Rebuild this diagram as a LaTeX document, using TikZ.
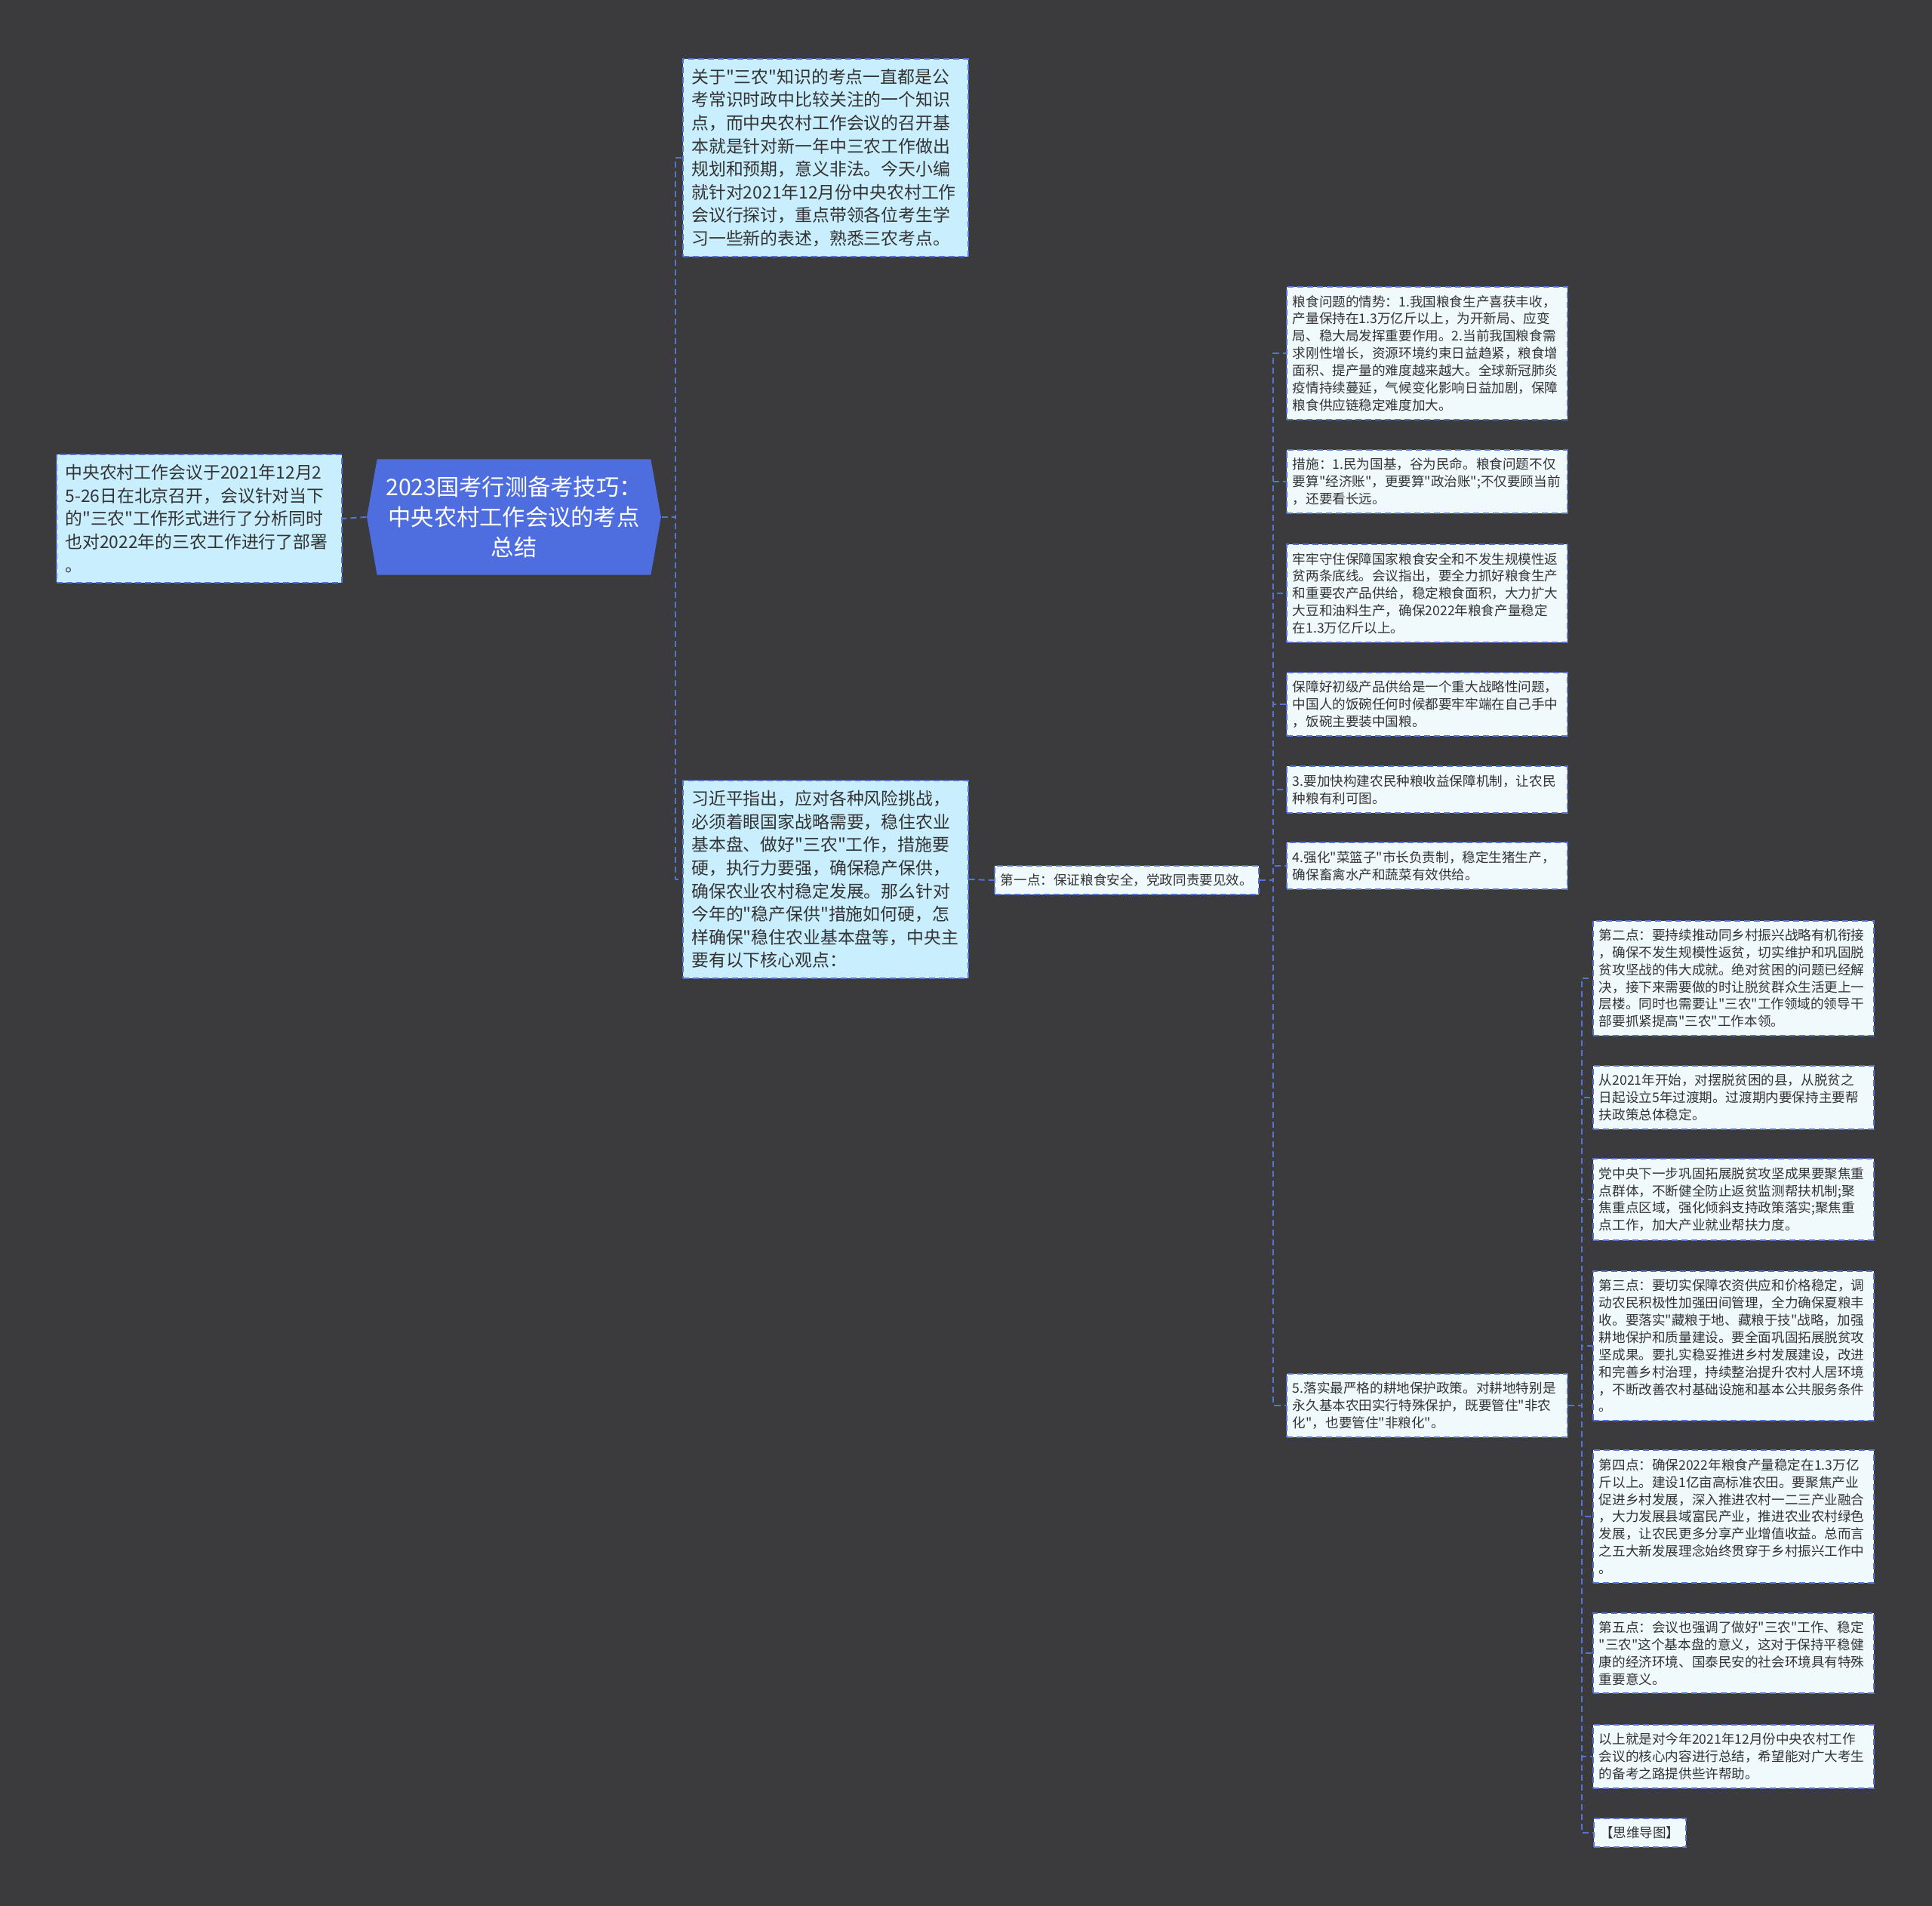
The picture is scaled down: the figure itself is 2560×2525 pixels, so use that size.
\documentclass[tikz,border=0pt]{standalone}
\usepackage{fontspec}
\newfontfamily\cjk{Noto Sans CJK SC}
\usetikzlibrary{shapes.symbols}
\definecolor{bgdark}{HTML}{3B3A3C}
\definecolor{linkblue}{HTML}{5573D0}
\definecolor{rootblue}{HTML}{4E6EE0}
\definecolor{bigfill}{HTML}{C9EEFD}
\definecolor{smallfill}{HTML}{F0FAFD}
\definecolor{textgrey}{HTML}{333333}
\begin{document}
\begin{tikzpicture}[x=0.01cm, y=-0.01cm,
  link/.style={draw=linkblue, line width=0.02cm, dash pattern=on 0.08cm off 0.05cm},
  bigbox/.style={link, fill=bigfill, text=textgrey, text width=3.55cm, align=left,
    inner xsep=0.11cm, inner ysep=0.13cm, font=\cjk\fontsize{6.5pt}{8.7pt}\selectfont},
  smallbox/.style={link, fill=smallfill, text=textgrey, text width=3.56cm, align=left,
    inner xsep=0.08cm, inner ysep=0.11cm, font=\cjk\fontsize{5pt}{6.5pt}\selectfont},
  tagbox/.style={link, fill=smallfill, text=textgrey, inner xsep=0.08cm, inner ysep=0.11cm,
    font=\cjk\fontsize{5pt}{6.5pt}\selectfont},
  rootbox/.style={signal, signal to=west and east, signal pointer angle=160, fill=rootblue,
    text=white, align=center, minimum width=3.82cm, minimum height=1.53cm,
    font=\cjk\fontsize{8.6pt}{11.3pt}\selectfont}]
\fill[bgdark] (0,0) rectangle (2560,2525);
\useasboundingbox (0,0) rectangle (2560,2525);

\node[rootbox] (root) at (681,685) {2023国考行测备考技巧：\\中央农村工作会议的考点\\总结};
\node[bigbox] (leftnote) at (264,687) {中央农村工作会议于2021年12月2\\5-26日在北京召开，会议针对当下\\的"三农"工作形式进行了分析同时\\也对2022年的三农工作进行了部署\\。};
\node[bigbox] (intro) at (1094,209) {关于"三农"知识的考点一直都是公\\考常识时政中比较关注的一个知识\\点，而中央农村工作会议的召开基\\本就是针对新一年中三农工作做出\\规划和预期，意义非法。今天小编\\就针对2021年12月份中央农村工作\\会议行探讨，重点带领各位考生学\\习一些新的表述，熟悉三农考点。};
\node[bigbox] (middle) at (1094,1165) {习近平指出，应对各种风险挑战，\\必须着眼国家战略需要，稳住农业\\基本盘、做好"三农"工作，措施要\\硬，执行力要强，确保稳产保供，\\确保农业农村稳定发展。那么针对\\今年的"稳产保供"措施如何硬，怎\\样确保"稳住农业基本盘等，中央主\\要有以下核心观点：};
\node[tagbox] (first) at (1493,1166) {第一点：保证粮食安全，党政同责要见效。};

% first point, details
\node[smallbox] (a1) at (1891,468) {粮食问题的情势：1.我国粮食生产喜获丰收，\\产量保持在1.3万亿斤以上，为开新局、应变\\局、稳大局发挥重要作用。2.当前我国粮食需\\求刚性增长，资源环境约束日益趋紧，粮食增\\面积、提产量的难度越来越大。全球新冠肺炎\\疫情持续蔓延，气候变化影响日益加剧，保障\\粮食供应链稳定难度加大。};
\node[smallbox] (a2) at (1891,638) {措施：1.民为国基，谷为民命。粮食问题不仅\\要算"经济账"，更要算"政治账";不仅要顾当前\\，还要看长远。};
\node[smallbox] (a3) at (1891,786) {牢牢守住保障国家粮食安全和不发生规模性返\\贫两条底线。会议指出，要全力抓好粮食生产\\和重要农产品供给，稳定粮食面积，大力扩大\\大豆和油料生产，确保2022年粮食产量稳定\\在1.3万亿斤以上。};
\node[smallbox] (a4) at (1891,933) {保障好初级产品供给是一个重大战略性问题，\\中国人的饭碗任何时候都要牢牢端在自己手中\\，饭碗主要装中国粮。};
\node[smallbox] (a5) at (1891,1046) {3.要加快构建农民种粮收益保障机制，让农民\\种粮有利可图。};
\node[smallbox] (a6) at (1891,1147) {4.强化"菜篮子"市长负责制，稳定生猪生产，\\确保畜禽水产和蔬菜有效供给。};
\node[smallbox] (a7) at (1891,1862) {5.落实最严格的耕地保护政策。对耕地特别是\\永久基本农田实行特殊保护，既要管住"非农\\化"，也要管住"非粮化"。};

% points two to five
\node[smallbox] (b1) at (2297,1296) {第二点：要持续推动同乡村振兴战略有机衔接\\，确保不发生规模性返贫，切实维护和巩固脱\\贫攻坚战的伟大成就。绝对贫困的问题已经解\\决，接下来需要做的时让脱贫群众生活更上一\\层楼。同时也需要让"三农"工作领域的领导干\\部要抓紧提高"三农"工作本领。};
\node[smallbox] (b2) at (2297,1454) {从2021年开始，对摆脱贫困的县，从脱贫之\\日起设立5年过渡期。过渡期内要保持主要帮\\扶政策总体稳定。};
\node[smallbox] (b3) at (2297,1589) {党中央下一步巩固拓展脱贫攻坚成果要聚焦重\\点群体，不断健全防止返贫监测帮扶机制;聚\\焦重点区域，强化倾斜支持政策落实;聚焦重\\点工作，加大产业就业帮扶力度。};
\node[smallbox] (b4) at (2297,1783) {第三点：要切实保障农资供应和价格稳定，调\\动农民积极性加强田间管理，全力确保夏粮丰\\收。要落实"藏粮于地、藏粮于技"战略，加强\\耕地保护和质量建设。要全面巩固拓展脱贫攻\\坚成果。要扎实稳妥推进乡村发展建设，改进\\和完善乡村治理，持续整治提升农村人居环境\\，不断改善农村基础设施和基本公共服务条件\\。};
\node[smallbox] (b5) at (2297,2009) {第四点：确保2022年粮食产量稳定在1.3万亿\\斤以上。建设1亿亩高标准农田。要聚焦产业\\促进乡村发展，深入推进农村一二三产业融合\\，大力发展县域富民产业，推进农业农村绿色\\发展，让农民更多分享产业增值收益。总而言\\之五大新发展理念始终贯穿于乡村振兴工作中\\。};
\node[smallbox] (b6) at (2297,2190) {第五点：会议也强调了做好"三农"工作、稳定\\"三农"这个基本盘的意义，这对于保持平稳健\\康的经济环境、国泰民安的社会环境具有特殊\\重要意义。};
\node[smallbox] (b7) at (2297,2327) {以上就是对今年2021年12月份中央农村工作\\会议的核心内容进行总结，希望能对广大考生\\的备考之路提供些许帮助。};
\node[tagbox, anchor=west] (b8) at (2111,2428) {【思维导图】};

\draw[link] (root.west) -- (leftnote.east);
\draw[link] (root.east) -- ++(18,0) |- (intro.west);
\draw[link] (root.east) -- ++(18,0) |- (middle.west);
\draw[link] (middle.east) -- (first.west);
\foreach \n in {a1,a2,a3,a4,a5,a6,a7}
  \draw[link] (first.east) -- ++(18,0) |- (\n.west);
\foreach \n in {b1,b2,b3,b4,b5,b6,b7,b8}
  \draw[link] (a7.east) -- ++(18,0) |- (\n.west);
\end{tikzpicture}
\end{document}
